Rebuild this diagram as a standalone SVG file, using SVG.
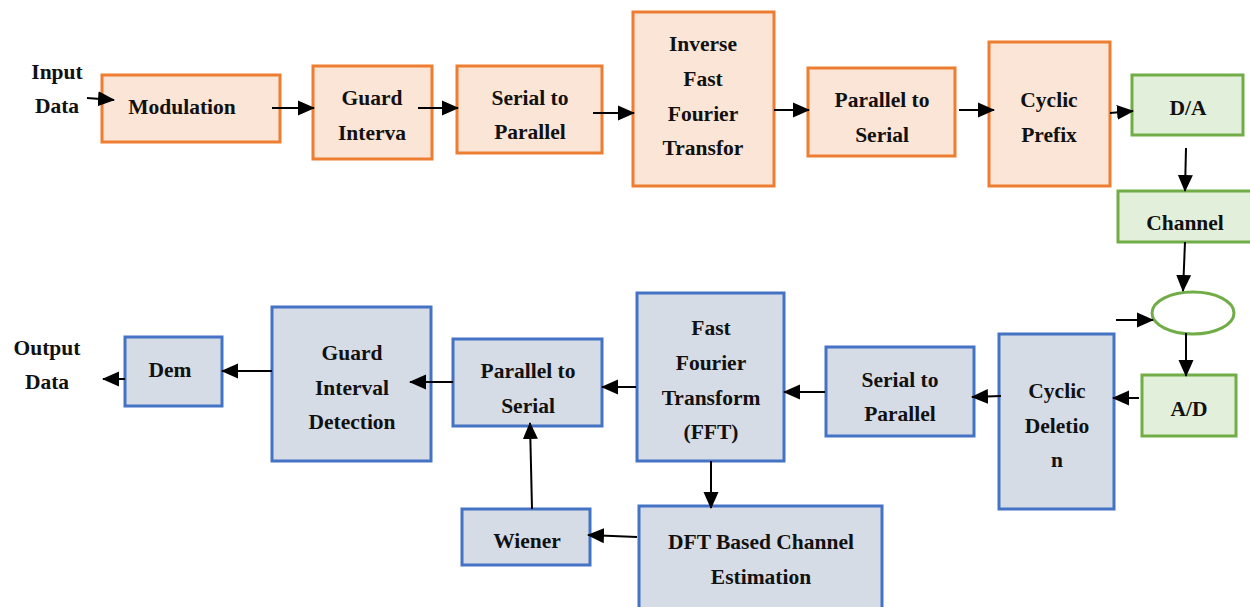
<svg xmlns="http://www.w3.org/2000/svg" width="1250" height="607" viewBox="0 0 1250 607" font-family="'Liberation Serif', 'DejaVu Serif', serif">
  <style>
    text { font-family: 'Liberation Serif', 'DejaVu Serif', serif; font-weight: bold; font-size: 21.5px; fill: #111; text-anchor: middle; }
    .tx rect { fill: #FBE5D6; stroke: #ED7D31; stroke-width: 3; }
    .ch rect, .ch ellipse { fill: #E2EFDA; stroke: #70AD47; stroke-width: 3; }
    .rx rect { fill: #D6DCE5; stroke: #4472C4; stroke-width: 3; }
    .ch ellipse { fill: #ffffff; }
    #connectors line { stroke: #000; stroke-width: 2; fill: none; marker-end: url(#arrow); }
  </style>
  <defs>
    <marker id="arrow" markerUnits="userSpaceOnUse" markerWidth="17" markerHeight="17" viewBox="0 0 17 17" refX="16" refY="8.5" orient="auto">
      <path d="M0,1 L17,8.5 L0,16 Z" fill="#000"/>
    </marker>
  </defs>

  <rect width="1250" height="607" fill="#ffffff"/>

  <!-- free labels -->
  <g id="input-label">
    <text x="57" y="79">Input</text>
    <text x="57" y="113">Data</text>
  </g>
  <g id="output-label">
    <text x="47" y="355">Output</text>
    <text x="47" y="389">Data</text>
  </g>

  <!-- transmitter chain -->
  <g id="modulation" class="tx">
    <rect x="102" y="75" width="178" height="67"/>
    <text x="182" y="114">Modulation</text>
  </g>
  <g id="guard-interval" class="tx">
    <rect x="313" y="66" width="119" height="93"/>
    <text x="372" y="105">Guard</text>
    <text x="372" y="140">Interva</text>
  </g>
  <g id="serial-to-parallel-tx" class="tx">
    <rect x="457" y="66" width="145" height="87"/>
    <text x="530" y="105">Serial to</text>
    <text x="530" y="139">Parallel</text>
  </g>
  <g id="ifft" class="tx">
    <rect x="633" y="12" width="141" height="174"/>
    <text x="703" y="51">Inverse</text>
    <text x="703" y="86">Fast</text>
    <text x="703" y="121">Fourier</text>
    <text x="703" y="155">Transfor</text>
  </g>
  <g id="parallel-to-serial-tx" class="tx">
    <rect x="808" y="68" width="147" height="88"/>
    <text x="882" y="107">Parallel to</text>
    <text x="882" y="142">Serial</text>
  </g>
  <g id="cyclic-prefix" class="tx">
    <rect x="989" y="42" width="121" height="144"/>
    <text x="1049" y="107">Cyclic</text>
    <text x="1049" y="142">Prefix</text>
  </g>

  <!-- channel section -->
  <g id="dac" class="ch">
    <rect x="1132" y="75" width="111" height="60"/>
    <text x="1188" y="115">D/A</text>
  </g>
  <g id="channel" class="ch">
    <rect x="1118" y="191" width="136" height="51"/>
    <text x="1185" y="230">Channel</text>
  </g>
  <g id="noise-sum" class="ch">
    <ellipse cx="1193" cy="313" rx="41" ry="21"/>
  </g>
  <g id="adc" class="ch">
    <rect x="1142" y="375" width="94" height="61"/>
    <text x="1189" y="416">A/D</text>
  </g>

  <!-- receiver chain -->
  <g id="cyclic-deletion" class="rx">
    <rect x="999" y="334" width="115" height="175"/>
    <text x="1057" y="398">Cyclic</text>
    <text x="1057" y="433">Deletio</text>
    <text x="1057" y="467">n</text>
  </g>
  <g id="serial-to-parallel-rx" class="rx">
    <rect x="826" y="347" width="148" height="89"/>
    <text x="900" y="387">Serial to</text>
    <text x="900" y="421">Parallel</text>
  </g>
  <g id="fft" class="rx">
    <rect x="637" y="293" width="147" height="168"/>
    <text x="711" y="335">Fast</text>
    <text x="711" y="370">Fourier</text>
    <text x="711" y="405">Transform</text>
    <text x="711" y="439">(FFT)</text>
  </g>
  <g id="parallel-to-serial-rx" class="rx">
    <rect x="453" y="339" width="149" height="87"/>
    <text x="528" y="378">Parallel to</text>
    <text x="528" y="413">Serial</text>
  </g>
  <g id="guard-interval-detection" class="rx">
    <rect x="272" y="307" width="159" height="154"/>
    <text x="352" y="360">Guard</text>
    <text x="352" y="395">Interval</text>
    <text x="352" y="429">Detection</text>
  </g>
  <g id="demodulation" class="rx">
    <rect x="125" y="337" width="97" height="69"/>
    <text x="170" y="377">Dem</text>
  </g>
  <g id="wiener" class="rx">
    <rect x="462" y="509" width="128" height="56"/>
    <text x="527" y="548">Wiener</text>
  </g>
  <g id="dft-channel-estimation" class="rx">
    <rect x="639" y="506" width="243" height="106"/>
    <text x="761" y="549">DFT Based Channel</text>
    <text x="761" y="584">Estimation</text>
  </g>

  <g id="connectors">
    <line x1="87" y1="98" x2="114" y2="100"/>
    <line x1="272" y1="108" x2="314" y2="108"/>
    <line x1="418" y1="108" x2="458" y2="108"/>
    <line x1="593" y1="113" x2="634" y2="113"/>
    <line x1="774" y1="110" x2="809" y2="110"/>
    <line x1="959" y1="110" x2="994" y2="110"/>
    <line x1="1110" y1="113" x2="1133" y2="111"/>
    <line x1="1186" y1="148" x2="1185" y2="191"/>
    <line x1="1185" y1="242" x2="1183" y2="291"/>
    <line x1="1116" y1="320" x2="1153" y2="320"/>
    <line x1="1186" y1="333" x2="1186" y2="376"/>
    <line x1="1139" y1="398" x2="1113" y2="398"/>
    <line x1="1001" y1="396" x2="972" y2="397"/>
    <line x1="825" y1="392" x2="784" y2="392"/>
    <line x1="636" y1="387" x2="602" y2="387"/>
    <line x1="453" y1="382" x2="410" y2="382"/>
    <line x1="272" y1="371" x2="222" y2="371"/>
    <line x1="125" y1="379" x2="103" y2="379"/>
    <line x1="711" y1="461" x2="711" y2="508"/>
    <line x1="637" y1="537" x2="588" y2="535"/>
    <line x1="532" y1="509" x2="530" y2="423"/>
  </g>
</svg>
